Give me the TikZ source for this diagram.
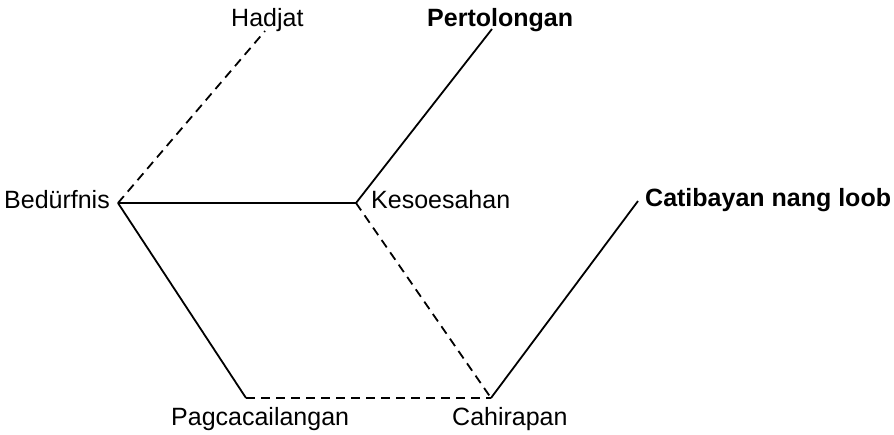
\documentclass[tikz,border=0pt]{standalone}
\usepackage{fontspec}
\setmainfont{Liberation Sans}
\begin{document}
\begin{tikzpicture}[x=1pt,y=-1pt,
  lbl/.style={anchor=base west,inner sep=0pt,font=\fontsize{25}{29}\selectfont},
  blbl/.style={lbl,font=\fontsize{25}{29}\selectfont\bfseries},
  solidline/.style={line width=1.8pt,line join=miter},
  dashline/.style={line width=1.8pt,dash pattern=on 9pt off 6pt}]
\useasboundingbox (0,0) rectangle (894,435);
% vertices
\coordinate (bed) at (118,203);
\coordinate (kes) at (356,203);
\coordinate (had) at (265,31);
\coordinate (per) at (492,29);
\coordinate (pag) at (246,398);
\coordinate (cah) at (491,398);
\coordinate (cat) at (638,201);
% labels
\node[lbl] (tHad) at (231,27) {Hadjat};
\node[blbl] (tPer) at (427,27) {Pertolongan};
\node[lbl] (tBed) at (4,209) {Bedürfnis};
\node[lbl] (tKes) at (371,209) {Kesoesahan};
\node[blbl] (tCat) at (645,207) {Catibayan nang loob};
\node[lbl] (tPag) at (171,425) {Pagcacailangan};
\node[lbl] (tCah) at (452,425) {Cahirapan};
% connectors
\draw[dashline] (bed) -- (had);
\draw[solidline] (bed) -- (kes);
\draw[solidline] (kes) -- (per);
\draw[solidline] (bed) -- (pag);
\draw[dashline] (pag) -- (cah);
\draw[dashline] (kes) -- (cah);
\draw[solidline] (cah) -- (cat);
\end{tikzpicture}
\end{document}
